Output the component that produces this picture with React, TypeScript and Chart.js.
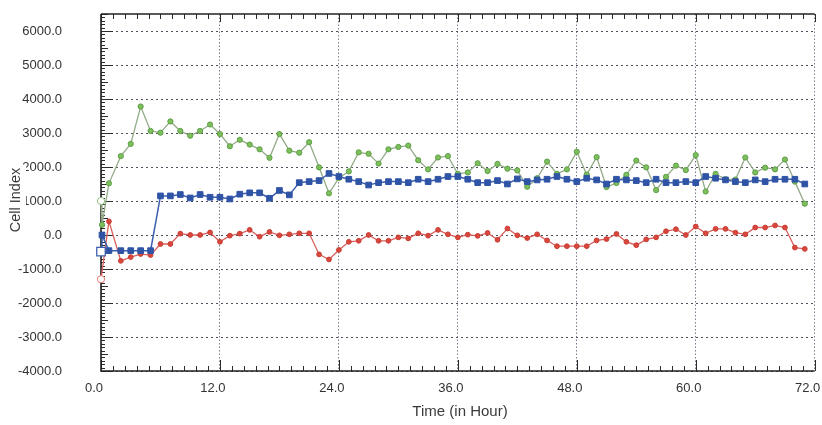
import { useEffect, useRef } from 'react';
import { Chart, registerables } from 'chart.js';

Chart.register(...registerables);

// Time (hours) of each measurement
const hours = [
  0, 0.1, 0.8, 2, 3, 4, 5, 6, 7, 8, 9, 10, 11, 12, 13, 14, 15, 16, 17, 18, 19, 20,
  21, 22, 23, 24, 25, 26, 27, 28, 29, 30, 31, 32, 33, 34, 35, 36, 37, 38, 39, 40,
  41, 42, 43, 44, 45, 46, 47, 48, 49, 50, 51, 52, 53, 54, 55, 56, 57, 58, 59, 60,
  61, 62, 63, 64, 65, 66, 67, 68, 69, 70, 71,
];

const greenValues = [
  1000, 300, 1520, 2320, 2680, 3780, 3060, 3010, 3340, 3060, 2920, 3060, 3250, 2970,
  2610, 2800, 2660, 2520, 2270, 2970, 2480, 2420, 2730, 1990, 1225, 1680, 1870, 2430,
  2390, 2100, 2520, 2590, 2630, 2200, 1930, 2280, 2320, 1800, 1840, 2110, 1880, 2090,
  1950, 1900, 1420, 1670, 2160, 1800, 1930, 2450, 1780, 2290, 1410, 1530, 1770, 2190,
  1990, 1320, 1710, 2040, 1910, 2350, 1280, 1800, 1640, 1630, 2280, 1840, 1980, 1930,
  2220, 1570, 920,
];

const blueValues = [
  -490, 0, -460, -460, -460, -460, -460, 1150, 1150, 1190, 1090, 1190, 1110, 1110,
  1060, 1200, 1240, 1240, 1080, 1310, 1180, 1540, 1570, 1600, 1810, 1720, 1640, 1570,
  1470, 1540, 1570, 1570, 1540, 1640, 1570, 1640, 1720, 1720, 1640, 1540, 1540, 1600,
  1500, 1650, 1570, 1620, 1640, 1720, 1640, 1570, 1670, 1620, 1500, 1640, 1620, 1600,
  1540, 1640, 1540, 1540, 1570, 1540, 1720, 1670, 1620, 1570, 1540, 1620, 1570, 1640,
  1640, 1640, 1500,
];

const redValues = [
  -1300, null, 400, -760, -650, -560, -590, -265, -265, 40, 0, 0, 75, -200, -20, 40,
  150, -50, 90, -10, 20, 50, 50, -570, -720, -440, -200, -170, 0, -170, -170, -70,
  -100, 50, -20, 150, 20, -70, 10, -25, 60, -140, 190, -10, -90, 20, -160, -330, -330,
  -330, -330, -160, -120, 30, -200, -300, -130, -70, 110, 170, 0, 250, 50, 180, 180,
  70, 20, 220, 220, 280, 220, -370, -410,
];

const xTickValues = [0, 12, 24, 36, 48, 60, 72];
const yTickValues = [-4000, -3000, -2000, -1000, 0, 1000, 2000, 3000, 4000, 5000, 6000];

const FONT = '"Liberation Sans", Arial, sans-serif';

const toPoints = (vals: (number | null)[]) => hours.map((h, i) => ({ x: h, y: vals[i] }));

const framePlugin = {
  id: 'frameTicks',
  beforeDatasetsDraw(chart: any) {
    const { ctx, chartArea: a, scales } = chart;
    const xs = scales.x;
    const ys = scales.y;
    ctx.save();
    ctx.strokeStyle = '#2b2b2b';
    ctx.lineWidth = 1;
    ctx.beginPath();
    // left axis minor/major ticks (inside)
    for (let v = -4000; v <= 6500; v += 100) {
      const py = Math.round(ys.getPixelForValue(v)) + 0.5;
      const len = v % 1000 === 0 ? 12 : v % 500 === 0 ? 7 : 4;
      ctx.moveTo(a.left, py);
      ctx.lineTo(a.left + len, py);
    }
    // bottom and top ticks every 1.2 h
    for (let k = 0; k <= 60; k++) {
      const t = k * 1.2;
      const px = Math.round(xs.getPixelForValue(t)) + 0.5;
      const major = k % 10 === 0;
      ctx.moveTo(px, a.bottom);
      ctx.lineTo(px, a.bottom - (major ? 11 : 5));
      ctx.moveTo(px, a.top);
      ctx.lineTo(px, a.top + (major ? 8 : 5));
    }
    ctx.stroke();
    // frame lines
    ctx.lineWidth = 1.6;
    ctx.strokeStyle = '#222';
    ctx.beginPath();
    ctx.moveTo(a.left, a.top);
    ctx.lineTo(a.left, a.bottom);
    ctx.lineTo(a.right, a.bottom);
    ctx.stroke();
    ctx.lineWidth = 1.3;
    ctx.beginPath();
    ctx.moveTo(a.left, a.top);
    ctx.lineTo(a.right, a.top);
    ctx.stroke();
    ctx.restore();
  },
  afterDraw(chart: any) {
    const { ctx } = chart;
    ctx.save();
    // y-axis title
    ctx.fillStyle = '#ffffff';
    ctx.fillRect(8, 166, 18, 68);
    ctx.translate(16, 200);
    ctx.rotate(-Math.PI / 2);
    ctx.fillStyle = '#3a3a3a';
    ctx.font = `14.5px ${FONT}`;
    ctx.textAlign = 'center';
    ctx.textBaseline = 'middle';
    ctx.fillText('Cell Index', 0, 0);
    ctx.restore();
    ctx.save();
    ctx.fillStyle = '#3a3a3a';
    ctx.font = `15px ${FONT}`;
    ctx.textAlign = 'center';
    ctx.textBaseline = 'middle';
    ctx.fillText('Time (in Hour)', 460, 412);
    ctx.restore();
  },
};

export default function App() {
  const ref = useRef<HTMLCanvasElement>(null);

  useEffect(() => {
    const canvas = ref.current!;
    const chart = new Chart(canvas, {
      type: 'line',
      data: {
        datasets: [
          {
            label: 'Blue',
            data: toPoints(blueValues),
            borderColor: '#3b5ead',
            borderWidth: 1.5,
            pointStyle: 'rect',
            pointRadius: (c: any) => (c.dataIndex === 0 ? 6 : 4),
            pointBackgroundColor: (c: any) => (c.dataIndex === 0 ? '#ffffff' : '#2f54a6'),
            pointBorderColor: (c: any) => (c.dataIndex === 0 ? '#4060ad' : '#2f54a6'),
            pointBorderWidth: (c: any) => (c.dataIndex === 0 ? 1.3 : 1),
            spanGaps: true,
            tension: 0,
            clip: false,
          },
          {
            label: 'Red',
            data: toPoints(redValues),
            borderColor: '#d9605a',
            borderWidth: 1.3,
            pointStyle: 'circle',
            pointRadius: (c: any) => (c.dataIndex === 0 ? 3.6 : 2.4),
            pointBackgroundColor: (c: any) => (c.dataIndex === 0 ? '#ffffff' : '#d8463c'),
            pointBorderColor: (c: any) => (c.dataIndex === 0 ? '#e07a70' : '#c73c33'),
            pointBorderWidth: 1,
            spanGaps: true,
            tension: 0,
            clip: false,
          },
          {
            label: 'Green',
            data: toPoints(greenValues),
            borderColor: '#93ab88',
            borderWidth: 1.3,
            pointStyle: 'circle',
            pointRadius: (c: any) => (c.dataIndex === 0 ? 3.6 : 2.6),
            pointBackgroundColor: (c: any) => (c.dataIndex === 0 ? '#ffffff' : '#7cbf5c'),
            pointBorderColor: (c: any) => (c.dataIndex === 0 ? '#8fbf80' : '#5e9f45'),
            pointBorderWidth: 1,
            spanGaps: true,
            tension: 0,
            clip: false,
          },
        ],
      },
      options: {
        animation: false,
        responsive: false,
        maintainAspectRatio: false,
        layout: { padding: { left: 0, right: 6, top: 14, bottom: 0 } },
        plugins: {
          legend: { display: false },
          tooltip: { enabled: false },
          title: { display: false },
        },
        scales: {
          x: {
            type: 'linear',
            min: 0,
            max: 72,
            afterBuildTicks: (s: any) => {
              s.ticks = xTickValues.map((v) => ({ value: v }));
            },
            ticks: {
              callback: (v: any) => Number(v).toFixed(1),
              labelOffset: -7,
              padding: 10,
              color: '#333',
              font: { family: FONT, size: 13 },
              maxRotation: 0,
              autoSkip: false,
            },
            grid: { color: '#7c7c8c', lineWidth: 1, drawTicks: false },
            border: { display: false, dash: [1.5, 2] },
            afterFit: (s: any) => {
              s.height = 54;
              s.paddingLeft = 0;
              s.paddingRight = 0;
            },
          },
          y: {
            type: 'linear',
            min: -4000,
            max: 6500,
            afterBuildTicks: (s: any) => {
              s.ticks = yTickValues.map((v) => ({ value: v }));
            },
            ticks: {
              callback: (v: any) => Number(v).toFixed(1),
              padding: 39,
              color: '#333',
              font: { family: FONT, size: 13 },
              autoSkip: false,
            },
            grid: { color: '#50505e', lineWidth: 1, drawTicks: false },
            border: { display: false, dash: [2, 3] },
            afterFit: (s: any) => {
              s.width = 101;
              s.paddingTop = 0;
              s.paddingBottom = 0;
            },
          },
        },
      },
      plugins: [framePlugin],
    } as any);
    return () => chart.destroy();
  }, []);

  return (
    <div style={{ position: 'fixed', left: 0, top: 0, width: 822, height: 425, background: '#ffffff' }}>
      <canvas ref={ref} width={822} height={425} style={{ display: 'block', width: 822, height: 425 }} />
    </div>
  );
}
